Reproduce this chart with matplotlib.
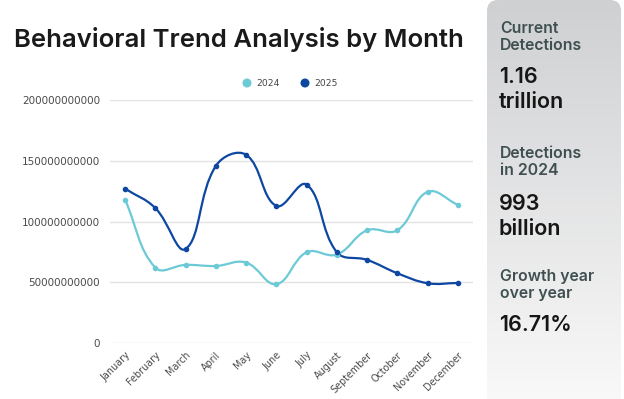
import numpy as np
import matplotlib
matplotlib.use("Agg")
import matplotlib.pyplot as plt
from matplotlib.path import Path
from matplotlib.patches import PathPatch, FancyBboxPatch, Ellipse

months = ["January", "February", "March", "April", "May", "June", "July",
          "August", "September", "October", "November", "December"]
series_2024 = [117.8e9, 62.0e9, 64.3e9, 63.4e9, 66.2e9, 48.4e9, 74.7e9,
               72.8e9, 92.8e9, 92.8e9, 124.4e9, 113.7e9]
series_2025 = [127.0e9, 111.0e9, 77.4e9, 145.8e9, 154.9e9, 112.8e9, 130.4e9,
               74.7e9, 68.4e9, 57.4e9, 49.2e9, 49.4e9]
y_ticks = [0, 50e9, 100e9, 150e9, 200e9]
legend_labels = ["2024", "2025"]
panel_labels = ["Current\nDetections", "Detections\nin 2024", "Growth year\nover year"]
panel_values = ["1.16\ntrillion", "993\nbillion", "16.71%"]

C24 = "#6ccad6"
C25 = "#0e47a1"
W, H = 624, 399

plt.rcParams['font.family'] = ['Inter', 'DejaVu Sans']
fig = plt.figure(figsize=(W / 100, H / 100), dpi=100)
fig.patch.set_facecolor("white")

def fx(px):
    return px / W

def fy(py):
    return 1 - py / H

# main axes
ax = fig.add_axes([fx(110), fy(343), fx(473 - 110), (343 - 100) / H])
ax.set_xlim(-0.5, 11.5)
ax.set_ylim(0, 200e9)
for s in ax.spines.values():
    s.set_visible(False)
ax.set_yticks(y_ticks)
ax.set_yticklabels([str(int(v)) for v in y_ticks], fontsize=7.5, color="#4a4a4a",
                   family="DejaVu Sans")
ax.set_xticks(range(len(months)))
ax.set_xticklabels(months, rotation=45, ha="right", rotation_mode="anchor",
                   fontsize=6.9, color="#4a4a4a", family="DejaVu Sans")
ax.tick_params(length=0, pad=7)
ax.tick_params(axis="x", pad=5)
ax.grid(axis="y", color="#e3e3e3", linewidth=1)
ax.set_axisbelow(True)

def spline(ax, xs, ys, color):
    trans = ax.transData
    pts = trans.transform(np.column_stack([xs, ys]))
    n = len(pts)
    t = 0.4
    cps_prev = []
    cps_next = []
    for i in range(n):
        cur = pts[i]
        prev = pts[i - 1] if i > 0 else cur
        nxt = pts[i + 1] if i < n - 1 else cur
        d01 = np.hypot(*(cur - prev))
        d12 = np.hypot(*(nxt - cur))
        tot = d01 + d12
        s01 = d01 / tot if tot else 0
        s12 = d12 / tot if tot else 0
        fa = t * s01
        fb = t * s12
        cps_prev.append(cur - fa * (nxt - prev))
        cps_next.append(cur + fb * (nxt - prev))
    verts = [pts[0]]
    codes = [Path.MOVETO]
    for i in range(n - 1):
        verts += [cps_next[i], cps_prev[i + 1], pts[i + 1]]
        codes += [Path.CURVE4] * 3
    verts = trans.inverted().transform(np.array(verts))
    patch = PathPatch(Path(verts, codes), facecolor="none", edgecolor=color,
                      linewidth=1.6, capstyle="round", joinstyle="round")
    ax.add_patch(patch)
    ax.plot(xs, ys, "o", color=color, markersize=3, zorder=3)

xs = np.arange(len(months))
spline(ax, xs, series_2024, C24)
spline(ax, xs, series_2025, C25)

# title
fig.text(fx(14), fy(40), "Behavioral Trend Analysis by Month", fontsize=18.5,
         fontweight="semibold", color="#1a1a1a", va="center", ha="left")

# legend
for cx, lab, col in [(247, legend_labels[0], C24), (305, legend_labels[1], C25)]:
    fig.patches.append(Ellipse((fx(cx), fy(83)), 9 / W, 9 / H,
                               transform=fig.transFigure,
                               facecolor=col, edgecolor="none"))
    fig.text(fx(cx + 9), fy(83), lab, fontsize=6.6, color="#444444", va="center",
             ha="left", family="DejaVu Sans")

# right panel with gradient
pax = fig.add_axes([fx(487), 0, fx(621 - 487), 1])
pax.set_xlim(0, 134)
pax.set_ylim(H, 0)
pax.axis("off")
grad = np.linspace(0, 1, 256).reshape(-1, 1)
top = np.array([0.812, 0.816, 0.824])
bot = np.array([0.975, 0.975, 0.975])
img = top + (bot - top) * grad[..., None]
img = img.reshape(256, 1, 3)
im = pax.imshow(img, extent=[0, 134, H, 0], aspect="auto", interpolation="bilinear")
clip = FancyBboxPatch((0, 0), 134, H + 30, boxstyle="round,pad=0,rounding_size=11",
                      transform=pax.transData, facecolor="none", edgecolor="none")
pax.add_patch(clip)
im.set_clip_path(clip)

label_y = [21, 146, 269]
value_y = [67, 194, 315]
for lab, ly in zip(panel_labels, label_y):
    fig.text(fx(500), fy(ly), lab, fontsize=11.4, color="#405051", va="top", ha="left",
             linespacing=1.15, fontweight="semibold")
for val, vy in zip(panel_values, value_y):
    fig.text(fx(499), fy(vy), val, fontsize=15.5, color="#161616", va="top", ha="left",
             linespacing=1.3, fontweight="semibold")

fig.savefig("out.png", dpi=100, facecolor="white")
